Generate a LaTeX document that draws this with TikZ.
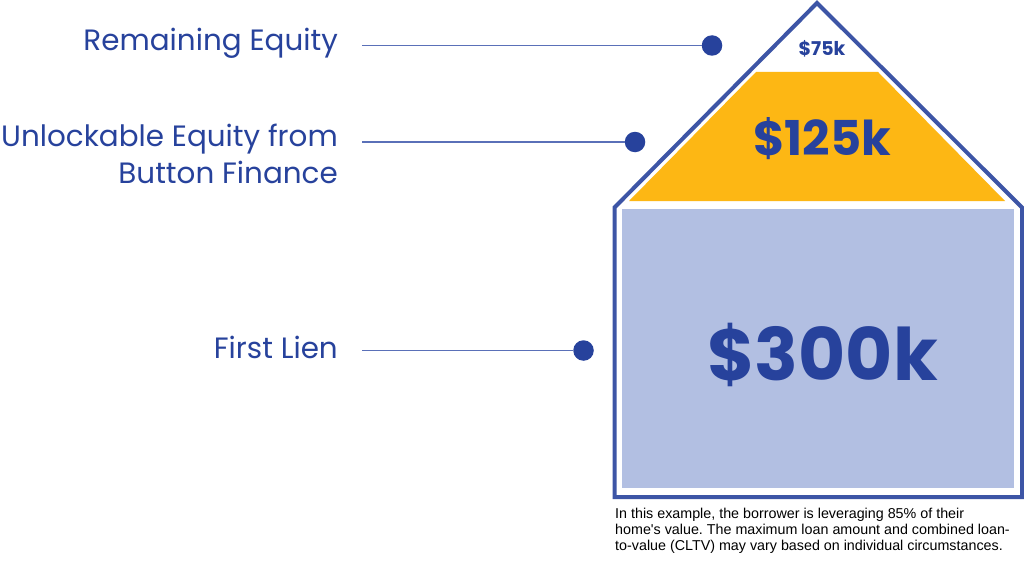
\documentclass[tikz,border=0pt]{standalone}
\usepackage{fontspec}
\setmainfont{Poppins}
\newfontfamily\capfont{Liberation Sans}
\frenchspacing
\definecolor{navy}{HTML}{27429C}
\definecolor{outl}{HTML}{3D55A6}
\definecolor{gold}{HTML}{FDB714}
\definecolor{pale}{HTML}{B2BFE2}
\definecolor{leader}{HTML}{5A70B8}
\tikzset{x=1pt,y=-1pt,
 lab/.style={text=navy,font=\fontsize{29.4}{37}\selectfont,align=right,anchor=east,inner sep=0pt},
 amt/.style={text=navy,inner sep=0pt},
 dot/.style={circle,fill=navy,minimum size=20.5pt,inner sep=0pt},
 lead/.style={draw=leader,line width=1.3pt},
 captext/.style={font=\capfont\fontsize{14.3}{16}\selectfont,anchor=north west,align=left,inner sep=0pt,text=black}}
\begin{document}
\begin{tikzpicture}
\useasboundingbox (0,0) rectangle (1024,567);
\fill[white] (0,0) rectangle (1024,567);
\draw[outl,line width=4pt,miter limit=10] (817,3) -- (1022,207.5) -- (1022,497) -- (614.5,497) -- (614.5,207.5) -- cycle;
\fill[gold] (756,72) -- (878,72) -- (1005,201) -- (629,201) -- cycle;
\fill[pale] (622,208.5) rectangle (1013.5,488);
\node[amt,font=\bfseries\fontsize{19}{19}\selectfont] (a) at (822,49) {\$75k};
\node[amt,font=\bfseries\fontsize{48}{48}\selectfont] (b) at (822,139) {\$125k};
\node[amt,font=\bfseries\fontsize{72.4}{72.4}\selectfont] (c) at (822.5,355) {\$300k};
\node[lab] (l1) at (338,43.5) {Remaining Equity};
\node[lab] (l2) at (338,154) {Unlockable Equity from\\Button Finance};
\node[lab] (l3) at (338,347) {First Lien};
\coordinate (s1) at (362,45.5);
\coordinate (s2) at (362,142);
\coordinate (s3) at (362,350.5);
\node[dot] (d1) at (712,45.5) {};
\node[dot] (d2) at (635,142) {};
\node[dot] (d3) at (583.5,350.5) {};
\draw[lead] (s1) -- (d1);
\draw[lead] (s2) -- (d2);
\draw[lead] (s3) -- (d3);
\node[captext] (n) at (615,508) {In this example, the borrower is leveraging 85\% of their\\home's value. The maximum loan amount and combined loan-\\to-value (CLTV) may vary based on individual circumstances.};
\end{tikzpicture}
\end{document}
